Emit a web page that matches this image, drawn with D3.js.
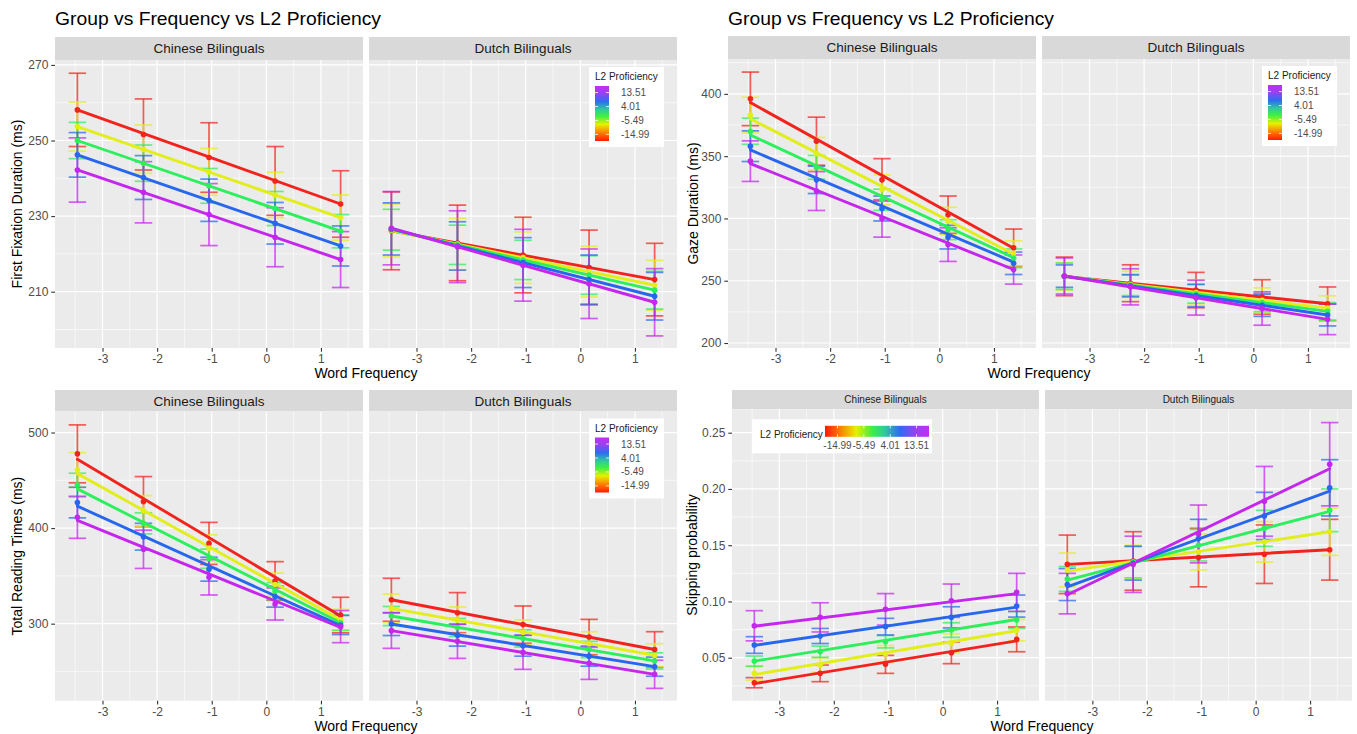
<!DOCTYPE html>
<html lang="en">
<head>
<meta charset="UTF-8">
<title>Group vs Frequency vs L2 Proficiency</title>
<script src="https://d3js.org/d3.v7.min.js"></script>
<style>
    body { margin: 0; background: #ffffff; font-family: "Liberation Sans", Arial, sans-serif; }
    svg text { font-family: "Liberation Sans", Arial, sans-serif; }
</style>
</head>
<body>
<svg id="chart" width="1357" height="734"></svg>
<script>
// word frequency positions of the five bins and axis ticks
const freq = [-3.46, -2.25, -1.05, 0.16, 1.36];
const freqTicks = [-3, -2, -1, 0, 1];
const groups = ["Chinese Bilinguals", "Dutch Bilinguals"];
const profBreaks = [-14.99, -5.49, 4.01, 13.51];
// one line per proficiency level: low (red) .. high (purple)
const lineColors = ["#f2231d", "#e2ee1c", "#2cef5c", "#2767ee", "#c526ee"];

// First fixation duration
const ffdTicks = [210, 230, 250, 270];
const ffdChineseFit = [[258.1, 233.2], [253.7, 229.6], [250.0, 226.0], [246.2, 222.1], [242.2, 218.5]];
const ffdChineseMean = [
    [258.1, 251.6, 245.5, 239.3, 233.2],
    [253.7, 247.7, 241.7, 235.6, 229.6],
    [250.0, 244.0, 238.0, 232.0, 226.0],
    [246.2, 240.2, 234.2, 228.1, 222.1],
    [242.2, 236.3, 230.4, 224.4, 218.5]];
const ffdChineseCI = [
    [9.7, 9.4, 9.2, 9.1, 8.8],
    [6.5, 6.4, 6.2, 6.0, 6.0],
    [4.8, 4.8, 4.6, 4.5, 4.4],
    [5.9, 5.8, 5.6, 5.5, 5.3],
    [8.5, 8.1, 8.2, 7.8, 7.4]];
const ffdDutchFit = [[226.1, 213.2], [226.2, 211.7], [226.4, 210.4], [226.6, 208.8], [226.8, 207.2]];
const ffdDutchMean = [
    [226.1, 222.9, 219.7, 216.4, 213.2],
    [226.2, 222.6, 219.0, 215.3, 211.7],
    [226.4, 222.4, 218.4, 214.4, 210.4],
    [226.6, 222.1, 217.7, 213.2, 208.8],
    [226.8, 221.9, 217.0, 212.1, 207.2]];
const ffdDutchCI = [
    [10.3, 10.0, 10.0, 9.9, 9.6],
    [7.0, 6.8, 6.8, 6.7, 6.6],
    [5.4, 5.2, 5.2, 5.1, 5.0],
    [6.9, 6.4, 6.6, 6.5, 6.3],
    [9.7, 9.5, 9.5, 9.2, 8.9]];

// Gaze duration
const gazeTicks = [200, 250, 300, 350, 400];
const gazeChineseFit = [[393, 276], [380, 271.5], [367, 268.5], [355, 265], [344, 259]];
const gazeChineseMean = [
    [396, 362, 331, 303, 276.5],
    [383, 352, 323, 298, 272],
    [370, 341, 315, 291, 268],
    [358, 331, 308, 285, 264],
    [346, 322, 300, 279, 259]];
const gazeChineseCI = [
    [21.5, 19.3, 17.0, 15.0, 15.0],
    [14.3, 13.0, 12.0, 11.0, 10.0],
    [10.5, 9.5, 8.5, 8.0, 7.5],
    [12.3, 11.0, 10.0, 9.5, 9.0],
    [16.3, 15.6, 15.0, 13.5, 11.7]];
const gazeDutchFit = [[253.5, 231.5], [253.5, 228.0], [253.6, 225.4], [253.7, 222.5], [253.8, 219.0]];
const gazeDutchMean = [
    [253.5, 248.0, 242.5, 237.0, 231.5],
    [253.5, 247.1, 240.6, 234.3, 228.0],
    [253.6, 246.6, 239.5, 232.5, 225.4],
    [253.7, 245.9, 238.1, 230.3, 222.5],
    [253.8, 245.1, 236.4, 227.7, 219.0]];
const gazeDutchCI = [
    [15.5, 14.8, 14.2, 13.8, 13.5],
    [11.0, 10.5, 10.2, 10.0, 9.9],
    [10.5, 8.5, 7.5, 7.3, 7.1],
    [9.0, 8.8, 9.0, 8.9, 8.8],
    [14.5, 14.5, 14.0, 13.4, 12.3]];

// Total reading times
const trtTicks = [300, 400, 500];
const trtChineseFit = [[472, 308], [457, 304], [441, 301], [423, 298], [408, 296]];
const trtChineseMean = [
    [477.7, 427.7, 384.0, 344.7, 309.0],
    [461.0, 418.0, 379.0, 341.0, 304.0],
    [445.0, 405.0, 368.0, 334.0, 301.0],
    [426.7, 391.0, 357.0, 328.3, 298.6],
    [411.3, 377.8, 348.5, 320.6, 296.9]];
const trtChineseCI = [
    [30.3, 26.2, 22.0, 20.2, 18.6],
    [18.0, 16.0, 14.0, 12.0, 11.0],
    [12.4, 11.0, 10.0, 9.0, 8.0],
    [16.0, 14.0, 12.5, 11.0, 10.0],
    [22.0, 20.0, 18.5, 16.8, 16.8]];
const trtDutchFit = [[325, 273], [316, 267], [308, 261], [299.6, 255], [292.7, 247]];
const trtDutchMean = [
    [325.0, 311.5, 299.0, 286.0, 273.0],
    [316.0, 303.5, 291.0, 279.0, 267.0],
    [308.0, 296.0, 284.5, 273.0, 261.0],
    [299.6, 288.0, 277.0, 266.0, 255.0],
    [292.7, 281.5, 270.0, 258.5, 247.0]];
const trtDutchCI = [
    [22.5, 21.0, 19.5, 18.5, 18.6],
    [15.0, 14.0, 13.0, 12.5, 12.0],
    [10.0, 9.5, 9.0, 8.5, 8.5],
    [12.0, 11.5, 11.0, 10.5, 10.0],
    [18.5, 17.8, 17.8, 16.8, 14.7]];

// Skipping probability
const skipTicks = [0.05, 0.10, 0.15, 0.20, 0.25];
const skipChineseFit = [[0.027, 0.065], [0.035, 0.074], [0.047, 0.084], [0.061, 0.095], [0.078, 0.107]];
const skipChineseMean = [
    [0.0278, 0.0361, 0.0441, 0.0544, 0.0663],
    [0.0361, 0.0435, 0.0533, 0.0627, 0.0746],
    [0.0470, 0.0553, 0.0642, 0.0746, 0.0835],
    [0.0613, 0.0693, 0.0776, 0.0859, 0.0959],
    [0.0784, 0.0859, 0.0930, 0.1007, 0.1081]];
const skipChineseCI = [
    [0.0045, 0.0074, 0.0080, 0.0097, 0.0110],
    [0.0060, 0.0065, 0.0075, 0.0085, 0.0095],
    [0.0045, 0.0050, 0.0055, 0.0065, 0.0075],
    [0.0074, 0.0067, 0.0074, 0.0094, 0.0098],
    [0.0134, 0.0130, 0.0140, 0.0148, 0.0169]];
const skipDutchFit = [[0.133, 0.146], [0.127, 0.162], [0.119, 0.180], [0.113, 0.198], [0.106, 0.218]];
const skipDutchMean = [
    [0.133, 0.136, 0.139, 0.142, 0.146],
    [0.128, 0.135, 0.144, 0.153, 0.162],
    [0.120, 0.135, 0.150, 0.165, 0.181],
    [0.115, 0.134, 0.156, 0.176, 0.201],
    [0.107, 0.133, 0.160, 0.189, 0.222]];
const skipDutchCI = [
    [0.026, 0.026, 0.026, 0.026, 0.027],
    [0.015, 0.015, 0.016, 0.018, 0.021],
    [0.011, 0.014, 0.014, 0.016, 0.019],
    [0.0142, 0.015, 0.017, 0.021, 0.025],
    [0.018, 0.025, 0.0257, 0.031, 0.037]];

// ---- layout ----
const xDomain = [-3.87, 1.77];
const capHalf = 0.16;
const legendDomain = [-19.5, 18];

const panels = [
    { title: "Group vs Frequency vs L2 Proficiency", ylab: "First Fixation Duration (ms)",
      left: 55, stripTop: 37, top: 60, bottom: 348, facetW: 308, gap: 6, stripSize: 13.5,
      yDomain: [195.1, 271.3], yTicks: ffdTicks, fmt: d => d, ylabX: 17, legend: "v",
      facets: [{ fit: ffdChineseFit, mean: ffdChineseMean, ci: ffdChineseCI },
               { fit: ffdDutchFit, mean: ffdDutchMean, ci: ffdDutchCI }] },
    { title: "Group vs Frequency vs L2 Proficiency", ylab: "Gaze Duration  (ms)",
      left: 728, stripTop: 36, top: 59, bottom: 348, facetW: 308, gap: 6, stripSize: 13.5,
      yDomain: [196, 428], yTicks: gazeTicks, fmt: d => d, ylabX: 693, legend: "v",
      facets: [{ fit: gazeChineseFit, mean: gazeChineseMean, ci: gazeChineseCI },
               { fit: gazeDutchFit, mean: gazeDutchMean, ci: gazeDutchCI }] },
    { title: null, ylab: "Total Reading Times (ms)",
      left: 55, stripTop: 390, top: 411.5, bottom: 700.7, facetW: 308, gap: 6, stripSize: 13.5,
      yDomain: [219.4, 522], yTicks: trtTicks, fmt: d => d, ylabX: 17, legend: "v",
      facets: [{ fit: trtChineseFit, mean: trtChineseMean, ci: trtChineseCI },
               { fit: trtDutchFit, mean: trtDutchMean, ci: trtDutchCI }] },
    { title: null, ylab: "Skipping probability",
      left: 732, stripTop: 390, top: 409.3, bottom: 700.7, facetW: 307, gap: 6, stripSize: 10,
      yDomain: [0.0118, 0.2708], yTicks: skipTicks, fmt: d3.format(".2f"), ylabX: 692, legend: "h",
      facets: [{ fit: skipChineseFit, mean: skipChineseMean, ci: skipChineseCI },
               { fit: skipDutchFit, mean: skipDutchMean, ci: skipDutchCI }] }
];

const svg = d3.select("#chart");

// rainbow gradients for the colour bars
const gradStops = [
    [0, "#ff1a00"], [0.12, "#ff6a00"], [0.3, "#e6f000"], [0.45, "#3ef043"],
    [0.58, "#2fc7a0"], [0.72, "#2d6cf0"], [0.87, "#9a40f0"], [1, "#c22ff0"]];
const defs = svg.append("defs");
[["gradV", 0, 1, 0, 0], ["gradH", 0, 0, 1, 0]].forEach(([id, x1, y1, x2, y2]) => {
    const lg = defs.append("linearGradient").attr("id", id)
        .attr("x1", x1).attr("y1", y1).attr("x2", x2).attr("y2", y2);
    gradStops.forEach(s => lg.append("stop").attr("offset", s[0]).attr("stop-color", s[1]));
});

// ggplot style minor breaks: halfway between majors
function minorOf(ticks, domain) {
    const step = ticks[1] - ticks[0];
    const out = [];
    for (let v = ticks[0] - step / 2; v <= domain[1]; v += step) {
        if (v >= domain[0]) out.push(v);
    }
    return out;
}

function styleAxis(a) {
    a.select(".domain").remove();
    a.attr("font-size", 12).attr("font-family", null).attr("color", "#333333");
    a.selectAll(".tick text").attr("fill", "#4d4d4d");
    a.selectAll(".tick line").attr("stroke-width", 1.1);
}

function drawVLegend(g, x, y) {
    const bar = d3.scaleLinear().domain(legendDomain).range([y + 74, y + 19]);
    g.append("rect").attr("x", x).attr("y", y).attr("width", 75).attr("height", 80).attr("fill", "#ffffff");
    g.append("text").attr("x", x + 6).attr("y", y + 13).attr("font-size", 10).attr("fill", "#1a1a1a").text("L2 Proficiency");
    g.append("rect").attr("x", x + 6).attr("y", y + 19).attr("width", 14).attr("height", 55).attr("fill", "url(#gradV)");
    profBreaks.forEach(b => {
        g.append("line").attr("x1", x + 6).attr("x2", x + 9).attr("y1", bar(b)).attr("y2", bar(b)).attr("stroke", "#fff").attr("stroke-width", 0.8);
        g.append("line").attr("x1", x + 17).attr("x2", x + 20).attr("y1", bar(b)).attr("y2", bar(b)).attr("stroke", "#fff").attr("stroke-width", 0.8);
        g.append("text").attr("x", x + 32).attr("y", bar(b)).attr("dy", "0.35em")
            .attr("font-size", 10).attr("fill", "#4d4d4d").text(b.toFixed(2));
    });
}

function drawHLegend(g, x, y) {
    const bar = d3.scaleLinear().domain(legendDomain).range([x + 73, x + 177]);
    g.append("rect").attr("x", x).attr("y", y).attr("width", 180).attr("height", 34).attr("fill", "#ffffff");
    g.append("text").attr("x", x + 8).attr("y", y + 18.5).attr("font-size", 10).attr("fill", "#1a1a1a").text("L2 Proficiency");
    g.append("rect").attr("x", x + 73).attr("y", y + 6.5).attr("width", 104).attr("height", 11).attr("fill", "url(#gradH)");
    profBreaks.forEach(b => {
        g.append("line").attr("x1", bar(b)).attr("x2", bar(b)).attr("y1", y + 6.5).attr("y2", y + 9).attr("stroke", "#fff").attr("stroke-width", 0.8);
        g.append("line").attr("x1", bar(b)).attr("x2", bar(b)).attr("y1", y + 15).attr("y2", y + 17.5).attr("stroke", "#fff").attr("stroke-width", 0.8);
        g.append("text").attr("x", bar(b)).attr("y", y + 29.5).attr("text-anchor", "middle")
            .attr("font-size", 10).attr("fill", "#4d4d4d").text(b.toFixed(2));
    });
}

function drawPanel(p) {
    const g = svg.append("g");
    const y = d3.scaleLinear().domain(p.yDomain).range([p.bottom, p.top]);
    const yMinor = minorOf(p.yTicks, p.yDomain);
    const xMinor = minorOf(freqTicks, xDomain);

    if (p.title) {
        g.append("text").attr("x", p.left).attr("y", 25).attr("font-size", 18.5)
            .attr("textLength", 326).attr("lengthAdjust", "spacingAndGlyphs")
            .attr("fill", "#000").text(p.title);
    }

    p.facets.forEach((fd, f) => {
        const x0 = p.left + f * (p.facetW + p.gap);
        const x = d3.scaleLinear().domain(xDomain).range([x0, x0 + p.facetW]);

        // strip
        g.append("rect").attr("x", x0).attr("y", p.stripTop).attr("width", p.facetW)
            .attr("height", p.top - p.stripTop).attr("fill", "#d9d9d9");
        g.append("text").attr("x", x0 + p.facetW / 2).attr("y", (p.stripTop + p.top) / 2).attr("dy", "0.36em")
            .attr("text-anchor", "middle").attr("font-size", p.stripSize).attr("fill", "#1a1a1a").text(groups[f]);

        // panel + grid
        g.append("rect").attr("x", x0).attr("y", p.top).attr("width", p.facetW)
            .attr("height", p.bottom - p.top).attr("fill", "#ebebeb");
        const grid = g.append("g").attr("stroke", "#ffffff");
        grid.selectAll(".ym").data(yMinor).join("line")
            .attr("x1", x0).attr("x2", x0 + p.facetW).attr("y1", d => y(d)).attr("y2", d => y(d)).attr("stroke-width", 0.6);
        grid.selectAll(".xm").data(xMinor).join("line")
            .attr("y1", p.top).attr("y2", p.bottom).attr("x1", d => x(d)).attr("x2", d => x(d)).attr("stroke-width", 0.6);
        grid.selectAll(".yM").data(p.yTicks).join("line")
            .attr("x1", x0).attr("x2", x0 + p.facetW).attr("y1", d => y(d)).attr("y2", d => y(d)).attr("stroke-width", 1.2);
        grid.selectAll(".xM").data(freqTicks).join("line")
            .attr("y1", p.top).attr("y2", p.bottom).attr("x1", d => x(d)).attr("x2", d => x(d)).attr("stroke-width", 1.2);

        // error bars
        const bars = g.append("g").attr("stroke-opacity", 0.72).attr("stroke-width", 1.7).attr("fill", "none");
        fd.ci.forEach((row, c) => {
            row.forEach((h, i) => {
                const m = fd.mean[c][i];
                const bx = x(freq[i]);
                const bg = bars.append("g").attr("stroke", lineColors[c]);
                bg.append("line").attr("x1", bx).attr("x2", bx).attr("y1", y(m - h)).attr("y2", y(m + h));
                bg.append("line").attr("x1", x(freq[i] - capHalf)).attr("x2", x(freq[i] + capHalf)).attr("y1", y(m - h)).attr("y2", y(m - h));
                bg.append("line").attr("x1", x(freq[i] - capHalf)).attr("x2", x(freq[i] + capHalf)).attr("y1", y(m + h)).attr("y2", y(m + h));
            });
        });

        // fitted lines
        g.append("g").selectAll("line").data(fd.fit).join("line")
            .attr("x1", x(freq[0])).attr("x2", x(freq[freq.length - 1]))
            .attr("y1", d => y(d[0])).attr("y2", d => y(d[1]))
            .attr("stroke", (d, c) => lineColors[c]).attr("stroke-width", 2.9).attr("stroke-linecap", "round");

        // means
        fd.mean.forEach((row, c) => {
            g.append("g").selectAll("circle").data(row).join("circle")
                .attr("cx", (d, i) => x(freq[i])).attr("cy", d => y(d)).attr("r", 2.8)
                .attr("fill", lineColors[c]);
        });

        // x axis
        g.append("g").attr("transform", `translate(0,${p.bottom})`)
            .call(d3.axisBottom(x).tickValues(freqTicks).tickFormat(d => String(d)).tickSize(3.7).tickPadding(3))
            .call(styleAxis);
    });

    // y axis on the left facet only
    g.append("g").attr("transform", `translate(${p.left},0)`)
        .call(d3.axisLeft(y).tickValues(p.yTicks).tickFormat(p.fmt).tickSize(3.7).tickPadding(3))
        .call(styleAxis);

    // axis titles
    const right = p.left + 2 * p.facetW + p.gap;
    g.append("text").attr("x", (p.left + right) / 2).attr("y", p.bottom + 30).attr("text-anchor", "middle")
        .attr("font-size", 14).attr("fill", "#000").text("Word Frequency");
    g.append("text").attr("transform", `translate(${p.ylabX},${(p.top + p.bottom) / 2}) rotate(-90)`)
        .attr("dy", "0.35em").attr("text-anchor", "middle").attr("font-size", 14).attr("fill", "#000").text(p.ylab);

    // legends
    if (p.legend === "v") drawVLegend(g, right - 88, p.top + 7);
    else drawHLegend(g, p.left + 20, p.top + 10);
}

panels.forEach(drawPanel);
</script>
</body>
</html>
